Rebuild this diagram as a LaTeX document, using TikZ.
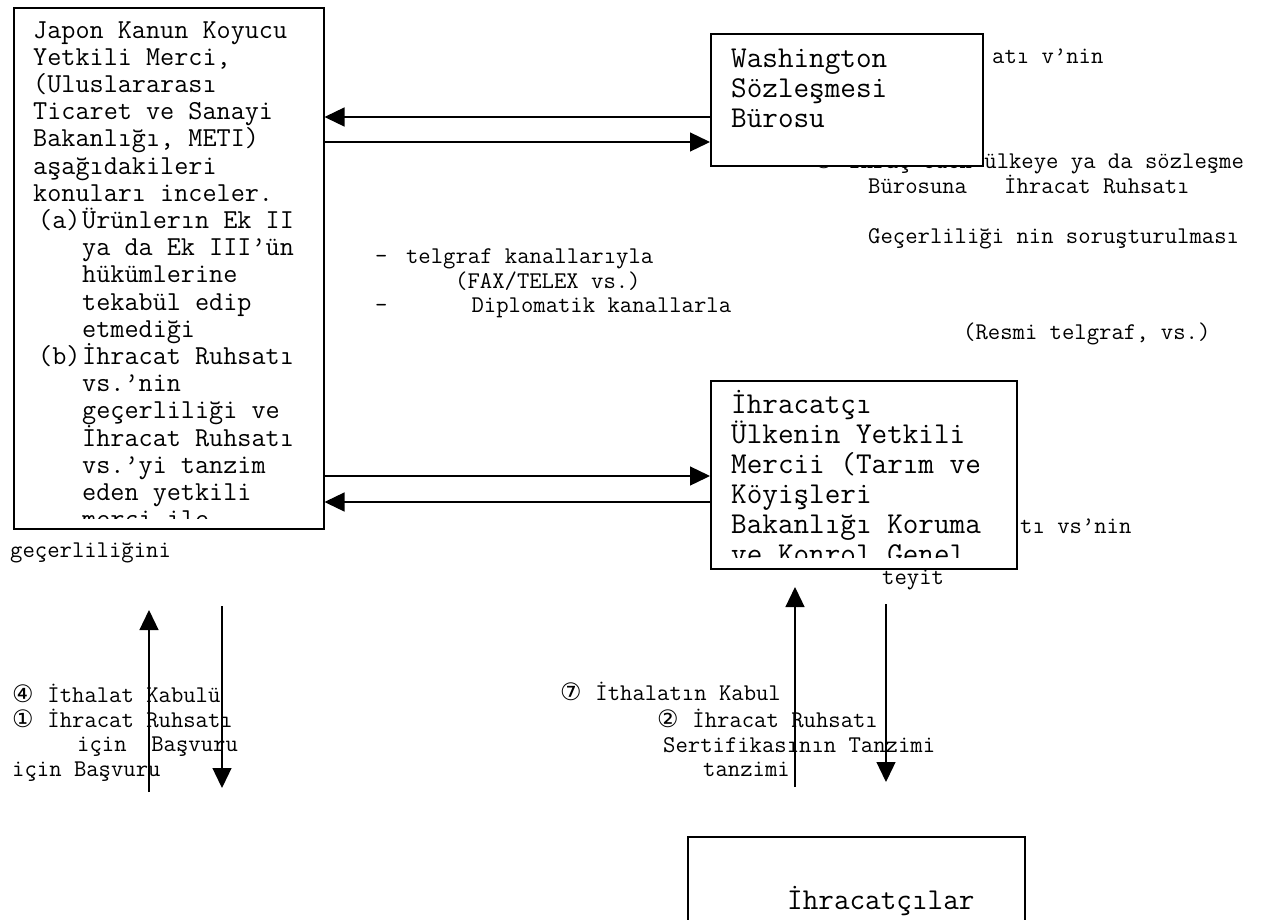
\documentclass[tikz,border=0pt]{standalone}
\usepackage{fontspec}
\newfontfamily\circfont{DejaVu Sans}
\usetikzlibrary{arrows.meta,positioning}

\newcommand\ind[1]{\hspace*{#1\fontcharwd\font`0}}
\newcommand\cnum[1]{\makebox[1.85\fontcharwd\font`0][l]{\circfont #1}}

\tikzset{
  box/.style={draw, line width=1.5pt, fill=white, anchor=north west, inner sep=0pt},
  conn/.style={line width=1.3pt, -{Triangle[length=20pt,width=19pt]}},
  lbl/.style={anchor=base west, inner sep=0pt, font=\ttfamily\fontsize{24}{25}\selectfont},
  atext/.style={anchor=base west, inner sep=0pt, font=\ttfamily\fontsize{27.4}{27}\selectfont},
  btext/.style={anchor=base west, inner sep=0pt, font=\ttfamily\fontsize{30.3}{30}\selectfont}
}

\begin{document}
\begin{tikzpicture}[x=1pt, y=-1pt]
\path[use as bounding box, fill=white] (0,0) rectangle (1274,919);

% text partly hidden by the convention office
\node[lbl] (resp-b) at (813,168) {\cnum{③} İhraç eden ülkeye ya da sözleşme};

% the japanese authority
\node[box, minimum width=310pt, minimum height=521pt] (jmerci) at (13,7) {};
\begin{scope}
\clip (jmerci.north west) rectangle ([yshift=11pt]jmerci.south east);
\foreach \t [count=\i] in {{Japon Kanun Koyucu},{Yetkili Merci,},{(Uluslararası},
    {Ticaret ve Sanayi},{Bakanlığı, METI)},{aşağıdakileri},{konuları inceler.}}
  \node[atext] (ja-\i) at (33, 10.8+27.2*\i) {\t};
\node[atext] (ja-a) at (38,228.4) {(a)};
\node[atext] (ja-b) at (38,364.4) {(b)};
\foreach \t [count=\i from 8] in {{Ürünlerın Ek II},{ya da Ek III’ün},{hükümlerine},
    {tekabül edip},{etmediği},{İhracat Ruhsatı},{vs.’nin},{geçerliliği ve},
    {İhracat Ruhsatı},{vs.’yi tanzim},{eden yetkili},{merci ile}}
  \node[atext] (ja-\i) at (82, 10.8+27.2*\i) {\t};
\end{scope}

% washington convention office
\node[box, minimum width=272pt, minimum height=132pt] (wbureau) at (710,33) {};
\foreach \t [count=\i] in {Washington, Sözleşmesi, Bürosu}
  \node[btext] (wb-\i) at (731, 37+30*\i) {\t};

% authority of the exporting country
\node[box, minimum width=306pt, minimum height=188pt] (eauth) at (710,380) {};
\begin{scope}
\clip (eauth.north west) rectangle ([yshift=12pt]eauth.south east);
\foreach \t [count=\i] in {{İhracatçı},{Ülkenin Yetkili},{Mercii (Tarım ve},
    {Köyişleri},{Bakanlığı Koruma},{ve Konrol Genel}}
  \node[btext] (ea-\i) at (731, 383+30*\i) {\t};
\end{scope}

% exporters
\node[box, minimum width=337pt, minimum height=110pt] (exporters) at (687,836) {};
\node[btext] (ex-1) at (787,909) {İhracatçılar};

% horizontal connectors
\coordinate (w1) at ([yshift=-84pt]wbureau.north west);
\coordinate (w2) at ([yshift=-109pt]wbureau.north west);
\draw[conn] (w1) -- (w1 -| jmerci.east);
\draw[conn] (w2 -| jmerci.east) -- (w2);
\coordinate (e1) at ([yshift=-96pt]eauth.north west);
\coordinate (e2) at ([yshift=-122pt]eauth.north west);
\draw[conn] (e1 -| jmerci.east) -- (e1);
\draw[conn] (e2) -- (e2 -| jmerci.east);

% vertical connectors
\coordinate (jup-s) at (149,792);
\coordinate (jup-e) at (149,610);
\coordinate (jdn-s) at (222,606);
\coordinate (jdn-e) at (222,788);
\coordinate (eup-s) at (795,787);
\coordinate (eup-e) at (795,587);
\coordinate (edn-s) at (886,604);
\coordinate (edn-e) at (886,782);
\draw[conn] (jup-s) -- (jup-e);
\draw[conn] (jdn-s) -- (jdn-e);
\draw[conn] (eup-s) -- (eup-e);
\draw[conn] (edn-s) -- (edn-e);

% labels
\node[lbl] (resp-a) at (992,63) {atı v’nin};
\node[lbl] (resp-c) at (868,193) {Bürosuna\ind{3}İhracat Ruhsatı};
\node[lbl] (resp-d) at (868,243) {Geçerliliği nin soruşturulması};
\node[lbl] (resp-e) at (963,339) {(Resmi telgraf, vs.)};

\node[lbl] (tel-1) at (375,263) {-\ind{1.5}telgraf kanallarıyla};
\node[lbl] (tel-2) at (455,288) {(FAX/TELEX vs.)};
\node[lbl] (tel-3) at (375,312) {-\ind{6.8}Diplomatik kanallarla};

\node[lbl] (val-1) at (10,557) {geçerliliğini};
\node[lbl] (val-2) at (882,584) {teyit};
\node[lbl] (val-3) at (1020,533) {tı vs’nin};

\node[lbl] (app-1) at (12,702) {\cnum{④} İthalat Kabulü};
\node[lbl] (app-2) at (12,727) {\cnum{①} İhracat Ruhsatı};
\node[lbl] (app-3) at (77,751) {için\ind{2}Başvuru};
\node[lbl] (app-4) at (12,776) {için Başvuru};

\node[lbl] (iss-1) at (560,700) {\cnum{⑦} İthalatın Kabul};
\node[lbl] (iss-2) at (657,727) {\cnum{②} İhracat Ruhsatı};
\node[lbl] (iss-3) at (663,752) {Sertifikasının Tanzimi};
\node[lbl] (iss-4) at (703,776) {tanzimi};
\end{tikzpicture}
\end{document}
